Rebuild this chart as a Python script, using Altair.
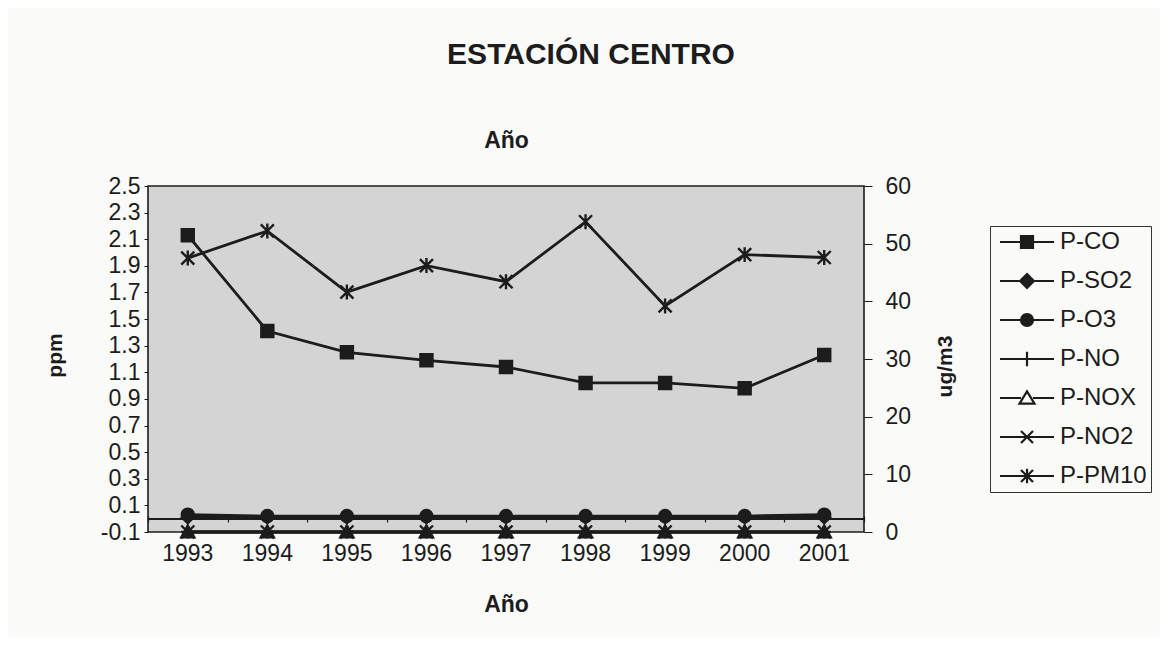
import altair as alt
import pandas as pd

years = ["1993", "1994", "1995", "1996", "1997", "1998", "1999", "2000", "2001"]
series_order = ["P-CO", "P-SO2", "P-O3", "P-NO", "P-NOX", "P-NO2", "P-PM10"]

# ppm (left axis)
p_co = [2.13, 1.41, 1.25, 1.19, 1.14, 1.02, 1.02, 0.98, 1.23]
p_so2 = [0.01, 0.01, 0.01, 0.01, 0.01, 0.01, 0.01, 0.01, 0.01]
p_o3 = [0.03, 0.02, 0.02, 0.02, 0.02, 0.02, 0.02, 0.02, 0.03]
# ug/m3 (right axis)
p_no = [0, 0, 0, 0, 0, 0, 0, 0, 0]
p_nox = [0, 0, 0, 0, 0, 0, 0, 0, 0]
p_no2 = [0, 0, 0, 0, 0, 0, 0, 0, 0]
p_pm10 = [47.5, 52.2, 41.6, 46.2, 43.4, 53.8, 39.2, 48.1, 47.6]

ppm_ticks = [-0.1, 0.1, 0.3, 0.5, 0.7, 0.9, 1.1, 1.3, 1.5, 1.7, 1.9, 2.1, 2.3, 2.5]
ug_ticks = [0, 10, 20, 30, 40, 50, 60]


def to_long(d):
    rows = []
    for s, vals in d.items():
        for yr, v in zip(years, vals):
            rows.append({"year": yr, "series": s, "value": v})
    return pd.DataFrame(rows)


ppm_df = to_long({"P-SO2": p_so2, "P-O3": p_o3, "P-CO": p_co})
ug_df = to_long({"P-NO": p_no, "P-NOX": p_nox, "P-NO2": p_no2, "P-PM10": p_pm10})
legend_df = pd.DataFrame({"series": series_order})

FONT = "Liberation Sans"
INK = "#1c1c1c"
PAPER = "#fafaf8"

marker_paths = [
    "square",
    "diamond",
    "circle",
    "M-1,0H1M0,-1V1",
    "M0,-1L1,0.8L-1,0.8Z M0,-0.35L-0.55,0.5L0.55,0.5Z",
    "M-1,-1L1,1M-1,1L1,-1",
    "M-1,-1L1,1M-1,1L1,-1M0,-1.15V1.15",
]
legend_paths = [
    "M-1,0H8M2.5,-1H4.5V1H2.5Z",
    "M-1,0H8M3.5,-1.15L4.65,0L3.5,1.15L2.35,0Z",
    "M-1,0H8M4.5,0A1,1,0,1,1,2.5,0A1,1,0,1,1,4.5,0Z",
    "M-1,0H8M3.5,-1.2V1.2",
    "M-1,0H2.5M4.5,0H8M3.5,-1.1L4.75,0.95L2.25,0.95Z",
    "M-1,0H8M2.5,-1L4.5,1M2.5,1L4.5,-1",
    "M-1,0H8M2.5,-1L4.5,1M2.5,1L4.5,-1M3.5,-1.2V1.2",
]
legend_strokes = [INK, INK, INK, INK, INK, INK, INK]
legend_fills = [INK, INK, INK, INK, PAPER, INK, INK]

xscale = alt.Scale(type="band", domain=years, paddingInner=0, paddingOuter=0)
ppm_scale = alt.Scale(domain=[-0.1, 2.5], nice=False, zero=False)
ug_scale = alt.Scale(domain=[0, 60], nice=False, zero=False)
shape_scale = alt.Scale(domain=series_order, range=marker_paths)

# axes
x_zero_axis = alt.Axis(orient="bottom", offset=-16, labels=False, domain=False, ticks=True,
                       tickSize=6, tickBand="extent", tickColor=INK, tickWidth=1.2,
                       title=None, grid=False)
x_label_axis = alt.Axis(orient="bottom", labels=True, domain=False, ticks=False,
                        labelPadding=10, labelFontSize=23, labelAngle=0,
                        title="Año", titleX=358, titleY=72, titleBaseline="middle",
                        titleFontSize=23, titleFontWeight="bold", grid=False)
x_top_axis = alt.Axis(orient="top", labels=False, domain=False, ticks=False,
                      title="Año", titleX=358, titleY=-46, titleBaseline="middle",
                      titleFontSize=23, titleFontWeight="bold", grid=False)

left_axis = alt.Axis(orient="left", values=ppm_ticks,
                     labelExpr="replace(format(datum.value, '.1f'), '\u2212', '-')",
                     labelFontSize=23, tickSize=4, labelPadding=4, labelOverlap=False,
                     domain=False, grid=False, tickColor=INK,
                     title="ppm", titleX=-93, titleY=169, titleAngle=-90,
                     titleBaseline="middle", titleFontSize=21, titleFontWeight="bold")
right_axis = alt.Axis(orient="right", values=ug_ticks, labelFontSize=23, tickSize=8,
                      labelPadding=13, labelOverlap=False, domain=False, grid=False,
                      tickColor=INK,
                      title="ug/m3", titleX=81, titleY=180, titleAngle=-90,
                      titleBaseline="middle", titleFontSize=21, titleFontWeight="bold")

zero_rule = alt.Chart(ppm_df).mark_rule(color=INK, strokeWidth=1.5).encode(
    y=alt.YDatum(0, scale=ppm_scale, axis=None)
)

ppm_lines = alt.Chart(ppm_df).mark_line(color=INK, strokeWidth=2.8).encode(
    x=alt.X("year:N", scale=xscale, sort=years, axis=x_zero_axis),
    y=alt.Y("value:Q", scale=ppm_scale, axis=left_axis),
    detail="series:N",
)
ppm_points = alt.Chart(ppm_df).mark_point(
    filled=True, color=INK, stroke=INK, strokeWidth=2.2, size=150, opacity=1
).encode(
    x=alt.X("year:N", scale=xscale, sort=years, axis=x_label_axis),
    y=alt.Y("value:Q", scale=ppm_scale, axis=None),
    shape=alt.Shape("series:N", scale=shape_scale, legend=None),
)
ug_lines = alt.Chart(ug_df).mark_line(color=INK, strokeWidth=2.8).encode(
    x=alt.X("year:N", scale=xscale, sort=years, axis=x_top_axis),
    y=alt.Y("value:Q", scale=ug_scale, axis=right_axis),
    detail="series:N",
)
ug_points = alt.Chart(ug_df).mark_point(
    filled=True, color=INK, stroke=INK, strokeWidth=2.4, size=170, opacity=1
).encode(
    x=alt.X("year:N", scale=xscale, sort=years, axis=None),
    y=alt.Y("value:Q", scale=ug_scale, axis=None),
    shape=alt.Shape("series:N", scale=shape_scale, legend=None),
)


def make_legend():
    return alt.Legend(
        title=None, orient="none", legendX=842, legendY=40,
        symbolSize=144, symbolOpacity=1, symbolStrokeWidth=2.2,
        labelFontSize=24, labelFont=FONT, labelColor=INK, labelOffset=42,
        rowPadding=15, padding=4, strokeColor="#333333", fillColor=PAPER,
        labelLimit=300,
    )


legend_layer = alt.Chart(legend_df).mark_point(
    filled=True, strokeWidth=2.2, opacity=0
).encode(
    shape=alt.Shape("series:N", scale=alt.Scale(domain=series_order, range=legend_paths),
                    legend=make_legend()),
    stroke=alt.Stroke("series:N", scale=alt.Scale(domain=series_order, range=legend_strokes),
                      legend=make_legend()),
    fill=alt.Fill("series:N", scale=alt.Scale(domain=series_order, range=legend_fills),
                  legend=make_legend()),
)

chart = alt.layer(
    zero_rule, ppm_lines, ug_lines, ppm_points, ug_points, legend_layer
).resolve_scale(
    y="independent", shape="independent", stroke="independent", fill="independent"
).resolve_axis(
    x="independent", y="independent"
).properties(
    width=716,
    height=346,
    padding={"left": 140, "top": 178, "right": 296, "bottom": 105},
    autosize=alt.AutoSizeParams(type="none"),
    background=PAPER,
    view=alt.ViewBackground(fill="#d4d4d4", stroke=INK, strokeWidth=1.6),
    title=alt.Title("ESTACIÓN CENTRO", fontSize=30, font=FONT, fontWeight="bold",
                    color=INK, anchor="middle", dx=85, offset=59),
).configure_axis(
    labelFont=FONT, titleFont=FONT, labelColor=INK, titleColor=INK
)

chart.save("out.html", embed_options={"renderer": "svg", "actions": False})
